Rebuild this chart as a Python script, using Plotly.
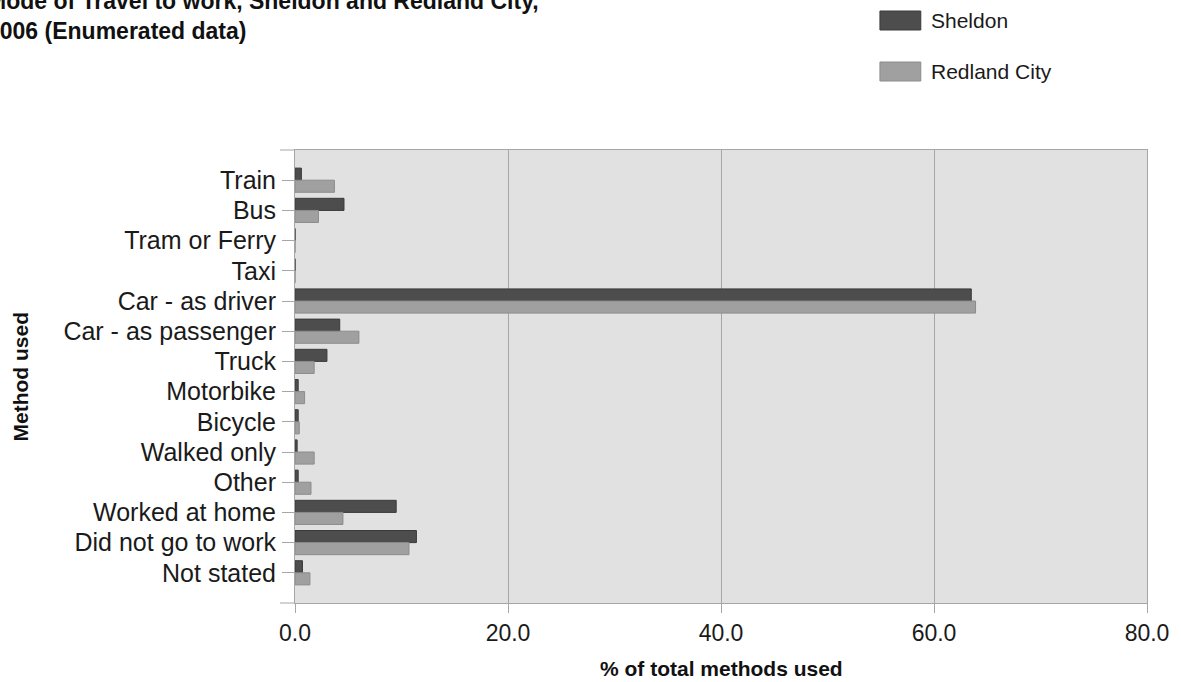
import plotly.graph_objects as go

categories = ["Train", "Bus", "Tram or Ferry", "Taxi", "Car - as driver",
              "Car - as passenger", "Truck", "Motorbike", "Bicycle",
              "Walked only", "Other", "Worked at home", "Did not go to work",
              "Not stated"]
sheldon = [0.6, 4.6, 0.0, 0.0, 63.5, 4.2, 3.0, 0.3, 0.3, 0.2, 0.3, 9.5, 11.4, 0.7]
redland = [3.7, 2.2, 0.0, 0.0, 63.9, 6.0, 1.8, 0.9, 0.4, 1.8, 1.5, 4.5, 10.7, 1.4]
x_ticks = [0, 20, 40, 60, 80]

W, H = 1181, 682
L, R, T, B = 295, 31, 150, 79
PW, PH = W - L - R, H - T - B

def px(x):
    return (x - L) / PW

def py(y):
    return (H - B - y) / PH

FONT = "Liberation Sans, Arial, sans-serif"
AXC = "#a6a6a6"

fig = go.Figure()
fig.add_trace(go.Bar(y=categories, x=sheldon, orientation="h", name="Sheldon",
                     marker=dict(color="#4d4d4d", line=dict(color="#3a3a3a", width=1)),
                     showlegend=False))
fig.add_trace(go.Bar(y=categories, x=redland, orientation="h", name="Redland City",
                     marker=dict(color="#a0a0a0", line=dict(color="#8c8c8c", width=1)),
                     showlegend=False))

fig.update_layout(
    width=W, height=H,
    margin=dict(l=L, r=R, t=T, b=B, pad=0),
    paper_bgcolor="white",
    plot_bgcolor="#e1e1e1",
    barmode="group", bargap=0.2, bargroupgap=0,
    font=dict(family=FONT, color="#1a1a1a"),
)
fig.update_xaxes(
    range=[0, 80], tickmode="array", tickvals=x_ticks, tickformat=".1f",
    showgrid=True, gridcolor=AXC, gridwidth=1,
    zeroline=False, showline=True, linecolor=AXC, linewidth=1, mirror=True,
    ticks="outside", ticklen=9, tickcolor=AXC,
    tickfont=dict(size=23, color="#1a1a1a"),
)
fig.update_yaxes(
    type="category", autorange=False, range=[len(categories), -1],
    tickmode="array", tickvals=categories, ticktext=categories,
    showgrid=False, zeroline=False,
    showline=True, linecolor=AXC, linewidth=1, mirror=True,
    ticks="outside", ticklen=12, tickcolor=AXC,
    tickfont=dict(size=25, color="#1a1a1a"),
    ticklabelstandoff=1,
)

# axis titles
fig.add_annotation(text="<b>Method used</b>", xref="paper", yref="paper",
                   x=px(20), y=0.5, xanchor="center", yanchor="middle",
                   textangle=-90, showarrow=False,
                   font=dict(size=21, color="#111", family=FONT))
fig.add_annotation(text="<b>% of total methods used</b>", xref="paper", yref="paper",
                   x=0.5, y=py(668), xanchor="center", yanchor="middle",
                   showarrow=False, font=dict(size=21, color="#111", family=FONT))

# border extensions at the left of the plot area
for yy in (0, 1):
    fig.add_shape(type="line", xref="paper", yref="paper",
                  x0=px(280), x1=0, y0=yy, y1=yy, line=dict(color=AXC, width=1))

# title (cropped at the top-left like the reference)
fig.add_annotation(
    text="<b>Mode of Travel to work, Sheldon and Redland City,<br>2006 (Enumerated data)</b>",
    xref="paper", yref="paper", x=px(-16), y=py(-14),
    xanchor="left", yanchor="top", align="left", showarrow=False,
    font=dict(size=23, color="#111", family=FONT),
)

# legend drawn manually
legend_items = [("Sheldon", "#4d4d4d", "#3a3a3a", 11), ("Redland City", "#a0a0a0", "#8c8c8c", 62)]
for name, col, lc, top in legend_items:
    fig.add_shape(type="rect", xref="paper", yref="paper",
                  x0=px(882), x1=px(923), y0=py(top), y1=py(top + 19),
                  fillcolor=col, line=dict(color=lc, width=1))
    fig.add_annotation(text=name, xref="paper", yref="paper",
                       x=px(931), y=py(top + 9.5), xanchor="left", yanchor="middle",
                       showarrow=False, font=dict(size=21, color="#1a1a1a", family=FONT))

fig.write_html("out.html", config={"displayModeBar": False},
               post_script="document.body.style.margin='0';")
